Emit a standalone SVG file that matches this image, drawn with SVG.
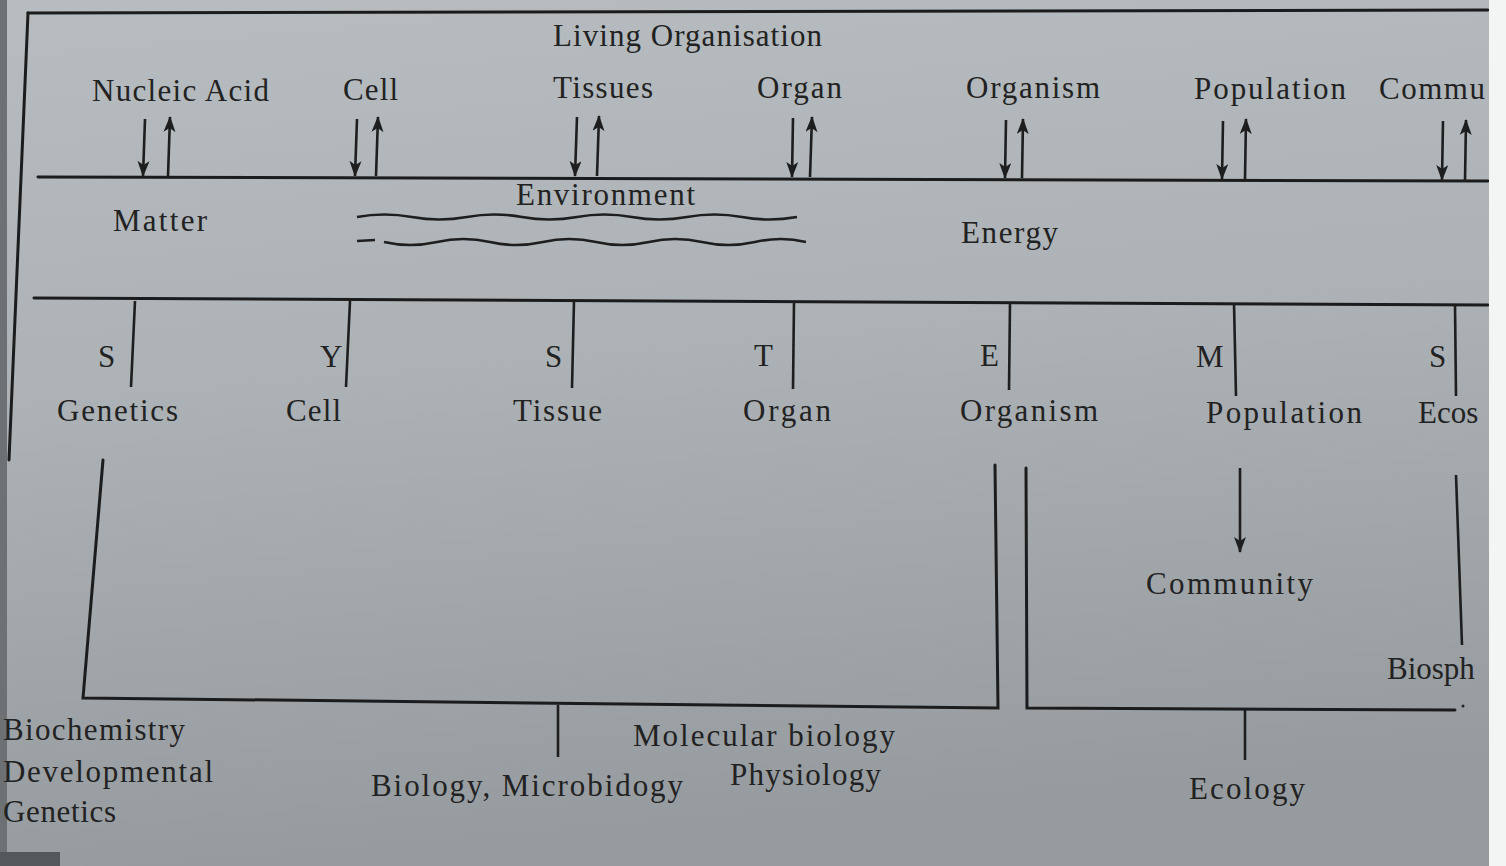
<svg xmlns="http://www.w3.org/2000/svg" width="1506" height="866" viewBox="0 0 1506 866">
<defs>
<linearGradient id="bg" x1="0" y1="0" x2="0.15" y2="1">
<stop offset="0" stop-color="#b6bcbf"/>
<stop offset="0.45" stop-color="#acb2b6"/>
<stop offset="1" stop-color="#969b9f"/>
</linearGradient>
<marker id="ah" markerUnits="userSpaceOnUse" markerWidth="16" markerHeight="12" viewBox="0 0 16 12" refX="15" refY="6" orient="auto">
<path d="M0,0 L16,6 L0,12 L4,6 z" fill="#1e1e1e"/>
</marker>
<style>
text{font-family:"Liberation Serif","Times New Roman",serif;font-size:31px;fill:#222}
.ln{stroke:#1c1c1c;stroke-width:3;fill:none;stroke-linecap:round}
.th{stroke:#1e1e1e;stroke-width:2.6;fill:none}
.ar{stroke:#1e1e1e;stroke-width:2.6;fill:none;marker-end:url(#ah)}
</style>
</defs>
<rect x="0" y="0" width="1506" height="866" fill="url(#bg)"/>
<rect x="0" y="0" width="7" height="866" fill="#6d7174"/>
<rect x="0" y="852" width="60" height="14" fill="#55585b"/>

<g id="frame">
<path class="ln" d="M28,13 L1488,10"/>
<path class="ln" d="M28,13 L9,460"/>
<path class="ln" d="M38,177 L1488,181"/>
<path class="ln" d="M34,298 L1488,305"/>
</g>

<g id="title"><text x="553" y="46" textLength="269">Living Organisation</text></g>

<g id="top-levels">
<text x="92" y="101" textLength="177">Nucleic Acid</text>
<text x="343" y="100" textLength="55">Cell</text>
<text x="553" y="98" textLength="100">Tissues</text>
<text x="757" y="98" textLength="85">Organ</text>
<text x="966" y="98" textLength="134">Organism</text>
<text x="1194" y="99" textLength="152">Population</text>
<text x="1379" y="99" textLength="106">Commu</text>
</g>

<g id="connectors">
<line class="ar" x1="145" y1="119" x2="143" y2="176"/>
<line class="ar" x1="168" y1="176" x2="170" y2="117"/>
<line class="ar" x1="357" y1="119" x2="355" y2="176"/>
<line class="ar" x1="376" y1="176" x2="378" y2="117"/>
<line class="ar" x1="577" y1="117" x2="575" y2="176"/>
<line class="ar" x1="597" y1="176" x2="599" y2="116"/>
<line class="ar" x1="793" y1="118" x2="792" y2="177"/>
<line class="ar" x1="810" y1="177" x2="812" y2="117"/>
<line class="ar" x1="1006" y1="120" x2="1005" y2="178"/>
<line class="ar" x1="1022" y1="178" x2="1023" y2="119"/>
<line class="ar" x1="1223" y1="121" x2="1222" y2="179"/>
<line class="ar" x1="1245" y1="179" x2="1246" y2="119"/>
<line class="ar" x1="1443" y1="121" x2="1442" y2="180"/>
<line class="ar" x1="1465" y1="181" x2="1466" y2="120"/>

<path class="th" d="M135,301 L131,387"/>
<path class="th" d="M350,301 L346,387"/>
<path class="th" d="M574,301 L572,388"/>
<path class="th" d="M794,302 L793,389"/>
<path class="th" d="M1010,303 L1009,390"/>
<path class="th" d="M1234,303 L1236,396"/>
<path class="th" d="M1455,304 L1456,396"/>

<path class="ln" d="M103,460 L83,698 L998,708 L995,465"/>
<path class="th" d="M558,705 L558,757"/>
<path class="ln" d="M1026,468 L1027,708 L1455,710"/>
<circle cx="1463" cy="706" r="1.5" fill="#222"/>
<path class="th" d="M1245,710 L1245,760"/>
<path class="th" d="M1456,475 L1462,645"/>
<line class="ar" x1="1240" y1="468" x2="1240" y2="552"/>

<path class="th" d="M357,217 Q384,212 412,217 Q439,222 467,217 Q494,212 522,217 Q549,222 577,217 Q604,212 632,217 Q659,222 687,217 Q714,212 742,217 Q769,222 797,217"/>
<path class="th" d="M357,241 L375,240"/>
<path class="th" d="M384,242 Q410,248 437,242 Q463,236 490,242 Q516,248 543,242 Q569,236 596,242 Q622,248 649,242 Q675,236 702,242 Q728,248 755,242 Q781,236 806,242"/>
</g>

<g id="environment">
<text x="516" y="205" textLength="179">Environment</text>
<text x="113" y="231" textLength="94">Matter</text>
<text x="961" y="243" textLength="97">Energy</text>
</g>

<g id="letters">
<text x="98" y="367">S</text>
<text x="320" y="367">Y</text>
<text x="545" y="367">S</text>
<text x="754" y="366">T</text>
<text x="980" y="366">E</text>
<text x="1196" y="367">M</text>
<text x="1429" y="367">S</text>
</g>

<g id="bottom-levels">
<text x="57" y="421" textLength="121">Genetics</text>
<text x="286" y="421" textLength="55">Cell</text>
<text x="513" y="421" textLength="89">Tissue</text>
<text x="743" y="421" textLength="88">Organ</text>
<text x="960" y="421" textLength="138">Organism</text>
<text x="1206" y="423" textLength="156">Population</text>
<text x="1418" y="423">Ecos</text>
<text x="1146" y="594" textLength="167">Community</text>
<text x="1387" y="679">Biosph</text>
</g>

<g id="disciplines">
<text x="3" y="740" textLength="182">Biochemistry</text>
<text x="3" y="782" textLength="210">Developmental</text>
<text x="3" y="822" textLength="113">Genetics</text>
<text x="371" y="796" textLength="312">Biology, Microbidogy</text>
<text x="633" y="746" textLength="262">Molecular biology</text>
<text x="730" y="785" textLength="151">Physiology</text>
<text x="1189" y="799" textLength="116">Ecology</text>
</g>
<rect x="1489" y="0" width="17" height="866" fill="#f3f4f4"/>
</svg>
